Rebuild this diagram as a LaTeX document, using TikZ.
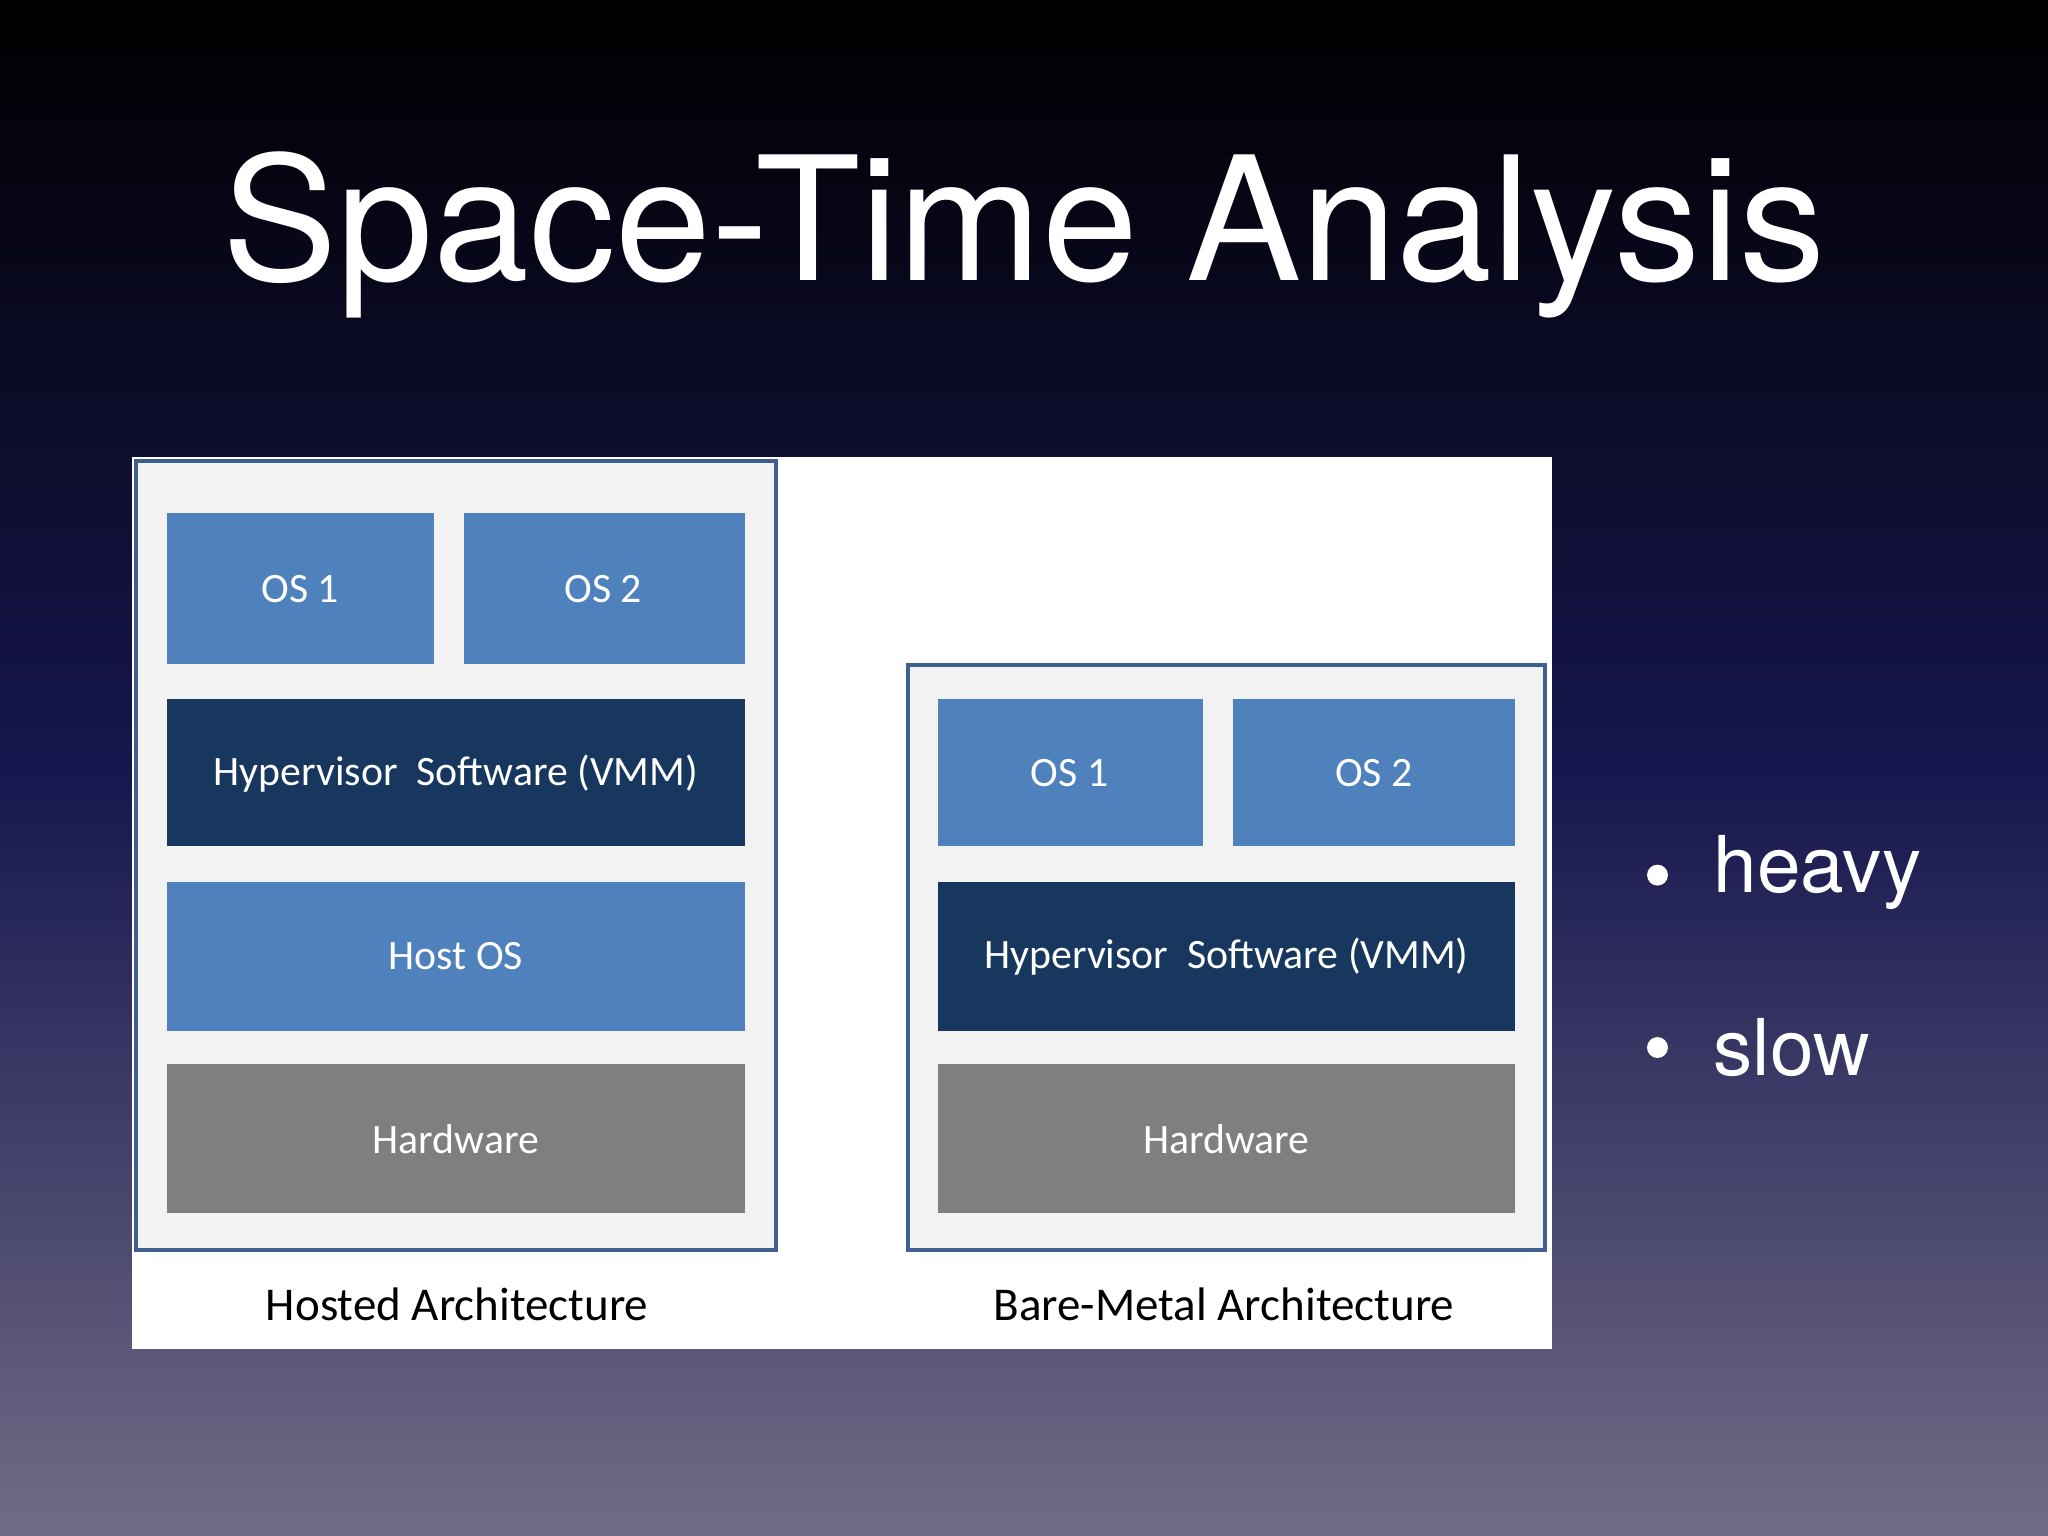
\documentclass[tikz,border=0pt]{standalone}
\usepackage{fontspec}
\setmainfont{TeX Gyre Heros}
\newfontfamily\carlitofam{Carlito}
\definecolor{osblue}{HTML}{4F81BD}
\definecolor{hypblue}{HTML}{17375E}
\definecolor{hwgray}{HTML}{7F7F7F}
\definecolor{frameblue}{HTML}{3F5F8F}
\definecolor{bgbot}{HTML}{706C86}
\begin{document}
\begin{tikzpicture}[x=0.5pt,y=-0.5pt,
  blk/.style={draw=none,inner sep=0pt,text=white,font=\carlitofam\fontsize{16}{18}\selectfont},
  frm/.style={fill=black!5,draw=frameblue,line width=1.5pt}]
\shade[top color=black,bottom color=bgbot,middle color=black!75!bgbot!80!blue] (0,0) rectangle (1568,1176);
\useasboundingbox (0,0) rectangle (1568,1176);
\node[text=white,font=\fontsize{66}{70}\selectfont] (title) at (784,180) {Space-Time Analysis};
\fill[white] (101,350) rectangle (1188,1033);
% left
\draw[frm] (104,353) rectangle (594,957);
\fill[osblue] (128,393) rectangle (332,508); \node[blk] (l1) at (230,451) {OS 1};
\fill[osblue] (355,393) rectangle (570,508); \node[blk] (l2) at (462,451) {OS 2};
\fill[hypblue] (128,535) rectangle (570,648); \node[blk] (lh) at (349,592) {Hypervisor\ \ Software (VMM)};
\fill[osblue] (128,675) rectangle (570,789); \node[blk] (lo) at (349,732) {Host OS};
\fill[hwgray] (128,815) rectangle (570,929); \node[blk] (lw) at (349,872) {Hardware};
\node[font=\carlitofam\fontsize{18}{20}\selectfont] (lt) at (350,999) {Hosted Architecture};
% right
\draw[frm] (695,509) rectangle (1183,957);
\fill[osblue] (718,535) rectangle (921,648); \node[blk] (r1) at (819,592) {OS 1};
\fill[osblue] (944,535) rectangle (1160,648); \node[blk] (r2) at (1052,592) {OS 2};
\fill[hypblue] (718,675) rectangle (1160,789); \node[blk] (rh) at (939,732) {Hypervisor\ \ Software (VMM)};
\fill[hwgray] (718,815) rectangle (1160,929); \node[blk] (rw) at (939,872) {Hardware};
\node[font=\carlitofam\fontsize{18}{20}\selectfont] (rt) at (937,999) {Bare-Metal Architecture};
% bullets
\fill[white] (1269,670) circle (8);
\fill[white] (1269,802) circle (8);
\node[anchor=west,text=white,font=\fontsize{30}{32}\selectfont] (b1) at (1305,668) {heavy};
\node[anchor=west,text=white,font=\fontsize{30}{32}\selectfont] (b2) at (1305,802) {slow};
\end{tikzpicture}
\end{document}
